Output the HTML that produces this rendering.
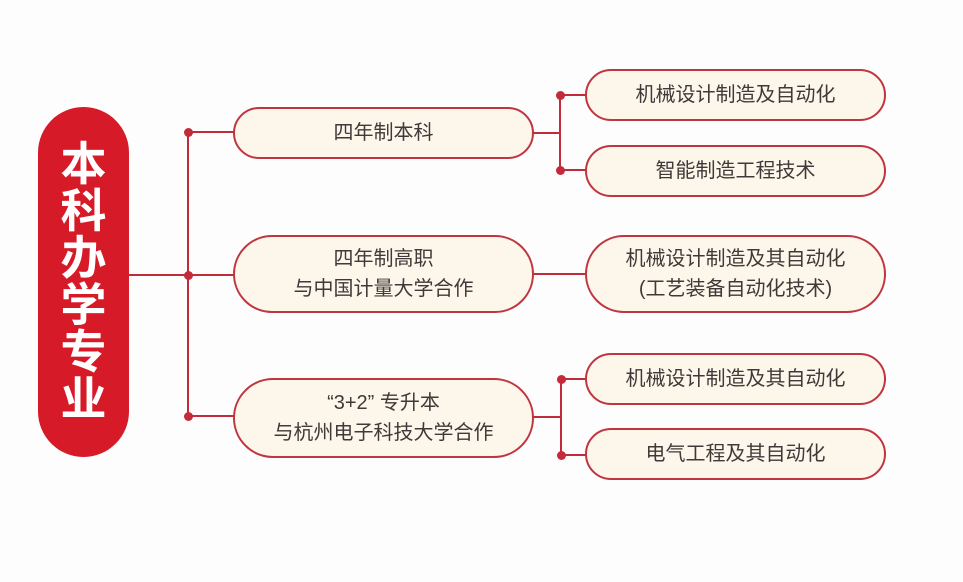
<!DOCTYPE html>
<html><head><meta charset="utf-8"><style>
body{margin:0;width:963px;height:582px;background:#fdfdfd;position:relative;overflow:hidden;font-family:"Liberation Sans","Noto Sans CJK SC",sans-serif}
.p{position:absolute;box-sizing:border-box;border:2px solid #bf3540;background:#fdf6ea;border-radius:40px;display:flex;align-items:center;justify-content:center;text-align:center;color:#3e3a39;font-size:20px;line-height:30px}
.l{position:absolute;background:#c22b37}
.d{position:absolute;width:9px;height:9px;border-radius:50%;background:#c22b37}
.m{position:absolute;left:38px;top:107px;width:91px;height:350px;background:#d71a28;border-radius:46px;color:#fff;font-weight:bold;font-size:46px;line-height:47px;display:flex;align-items:center;justify-content:center;text-align:center}
</style></head><body>
<div class="m"><div>本<br>科<br>办<br>学<br>专<br>业</div></div>
<div class="l" style="left:128px;top:274px;width:106px;height:2px"></div>
<div class="l" style="left:187px;top:132px;width:2px;height:285px"></div>
<div class="l" style="left:188px;top:131px;width:46px;height:2px"></div>
<div class="l" style="left:188px;top:415px;width:46px;height:2px"></div>
<div class="d" style="left:184px;top:128px"></div>
<div class="d" style="left:184px;top:271px"></div>
<div class="d" style="left:184px;top:412px"></div>
<div class="p" style="left:233px;top:107px;width:301px;height:52px">四年制本科</div>
<div class="p" style="left:233px;top:235px;width:301px;height:78px">四年制高职<br>与中国计量大学合作</div>
<div class="p" style="left:233px;top:378px;width:301px;height:80px">“3+2” 专升本<br>与杭州电子科技大学合作</div>
<div class="l" style="left:533px;top:132px;width:28px;height:2px"></div>
<div class="l" style="left:559px;top:95px;width:2px;height:76px"></div>
<div class="l" style="left:560px;top:94px;width:26px;height:2px"></div>
<div class="l" style="left:560px;top:169px;width:26px;height:2px"></div>
<div class="d" style="left:556px;top:91px"></div>
<div class="d" style="left:556px;top:166px"></div>
<div class="l" style="left:533px;top:273px;width:53px;height:2px"></div>
<div class="l" style="left:533px;top:416px;width:28px;height:2px"></div>
<div class="l" style="left:560px;top:379px;width:2px;height:76px"></div>
<div class="l" style="left:561px;top:378px;width:25px;height:2px"></div>
<div class="l" style="left:561px;top:454px;width:25px;height:2px"></div>
<div class="d" style="left:557px;top:375px"></div>
<div class="d" style="left:557px;top:451px"></div>
<div class="p" style="left:585px;top:69px;width:301px;height:52px">机械设计制造及自动化</div>
<div class="p" style="left:585px;top:145px;width:301px;height:52px">智能制造工程技术</div>
<div class="p" style="left:585px;top:235px;width:301px;height:78px">机械设计制造及其自动化<br>(工艺装备自动化技术)</div>
<div class="p" style="left:585px;top:353px;width:301px;height:52px">机械设计制造及其自动化</div>
<div class="p" style="left:585px;top:428px;width:301px;height:52px">电气工程及其自动化</div>
</body></html>
